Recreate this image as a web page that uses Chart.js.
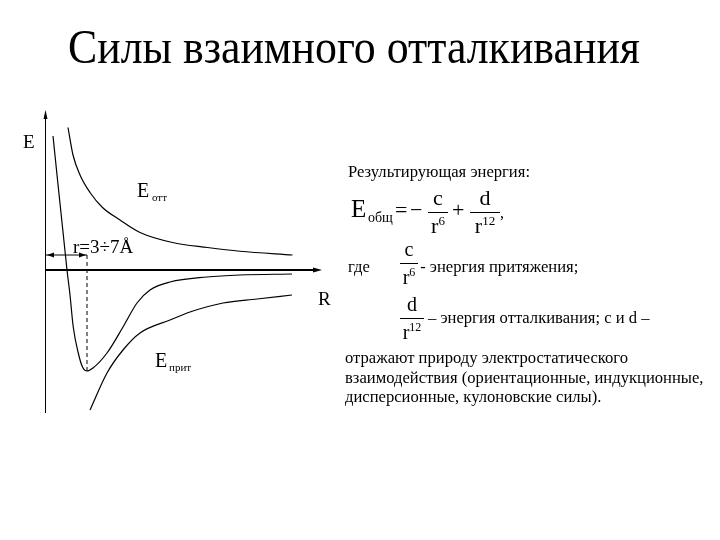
<!DOCTYPE html>
<html>
<head>
<meta charset="utf-8">
<script src="https://cdn.jsdelivr.net/npm/chart.js@4.4.0/dist/chart.umd.min.js"></script>
<style>
  html, body { margin: 0; padding: 0; background: #fff; }
  #wrap { width: 720px; height: 540px; }
</style>
</head>
<body>
<div id="wrap"><canvas id="chart" width="720" height="540"></canvas></div>
<script>
// curves (R and E in arbitrary units)
const repulsionR = [0.92, 1.12, 1.4, 1.8, 2.3, 3.0, 3.8, 5.1, 6.5, 7.8, 9.9];
const repulsionE = [5.7, 4.6, 3.8, 3.1, 2.5, 2.0, 1.5, 1.1, 0.9, 0.75, 0.6];
const attractionR = [1.8, 2.48, 3.12, 3.8, 5.0, 5.8, 7.12, 8.48, 9.88];
const attractionE = [-5.6, -4.12, -3.2, -2.52, -2.0, -1.68, -1.32, -1.16, -1.0];
const totalR = [0.32, 0.88, 1.0, 1.13, 1.33, 1.5, 1.68, 1.92, 2.48, 3.12, 3.68, 4.2, 5.0, 6.48, 7.8, 9.88];
const totalE = [5.36, 0, -1.0, -2.28, -3.32, -3.88, -4.04, -3.92, -3.32, -2.28, -1.32, -0.8, -0.48, -0.28, -0.2, -0.16];
const rangeR = [0, 11];
const rangeE = [-5.8, 6.4];
// equilibrium distance marker
const minimumR = 1.68;
const minimumE = -4.04;
const markerE = 0.6;

const FONT = '"Liberation Serif", "Times New Roman", serif';
const BODY = 16.6;

function points(xs, ys) {
  return xs.map((x, i) => ({ x: x, y: ys[i] }));
}

function curve(xs, ys) {
  return {
    data: points(xs, ys),
    showLine: true,
    borderColor: '#000',
    borderWidth: 1.2,
    pointRadius: 0,
    cubicInterpolationMode: 'monotone',
    clip: false
  };
}

function txt(ctx, s, x, y, size, align) {
  ctx.font = size + 'px ' + FONT;
  ctx.textAlign = align || 'left';
  ctx.fillText(s, x, y);
}

function arrowHead(ctx, x, y, dx, dy, len, half) {
  ctx.beginPath();
  ctx.moveTo(x, y);
  ctx.lineTo(x - dx * len - dy * half, y - dy * len + dx * half);
  ctx.lineTo(x - dx * len + dy * half, y - dy * len - dx * half);
  ctx.closePath();
  ctx.fill();
}

function frac(ctx, top, pow, cx, barY, w, size, psize) {
  txt(ctx, top, cx, barY - 7, size, 'center');
  ctx.beginPath();
  ctx.lineWidth = 1;
  ctx.moveTo(cx - w / 2, barY + 0.5);
  ctx.lineTo(cx + w / 2, barY + 0.5);
  ctx.stroke();
  ctx.font = size + 'px ' + FONT;
  const rw = ctx.measureText('r').width;
  ctx.font = psize + 'px ' + FONT;
  const pw = ctx.measureText(pow).width;
  const left = cx - (rw + pw) / 2;
  txt(ctx, 'r', left, barY + 21, size);
  txt(ctx, pow, left + rw, barY + 13, psize);
}

const slidePlugin = {
  id: 'slide',
  afterDatasetsDraw(chart) {
    const ctx = chart.ctx;
    const xs = chart.scales.x;
    const ys = chart.scales.y;
    const x0 = xs.getPixelForValue(0);
    const y0 = ys.getPixelForValue(0);
    ctx.save();
    ctx.fillStyle = '#000';
    ctx.strokeStyle = '#000';

    // E axis
    ctx.lineWidth = 1;
    ctx.beginPath();
    ctx.moveTo(x0 + 0.5, chart.chartArea.bottom - 2);
    ctx.lineTo(x0 + 0.5, chart.chartArea.top + 4);
    ctx.stroke();
    arrowHead(ctx, x0 + 0.5, chart.chartArea.top, 0, -1, 9, 2);

    // R axis
    ctx.lineWidth = 2;
    ctx.beginPath();
    ctx.moveTo(x0, y0);
    ctx.lineTo(chart.chartArea.right - 4, y0);
    ctx.stroke();
    arrowHead(ctx, chart.chartArea.right + 2, y0, 1, 0, 9, 2.5);

    // distance arrow heads
    const my = ys.getPixelForValue(markerE);
    const mx = xs.getPixelForValue(minimumR);
    arrowHead(ctx, x0 + 2, my, -1, 0, 7, 2.5);
    arrowHead(ctx, mx - 1, my, 1, 0, 7, 2.5);

    // chart labels
    txt(ctx, 'E', 23, 148, 19);
    txt(ctx, 'E', 137, 197, 20);
    txt(ctx, 'отт', 152, 201, 11);
    txt(ctx, 'r=3÷7Å', 73, 253, 19);
    txt(ctx, 'R', 318, 305, 19);
    txt(ctx, 'E', 155, 367, 20);
    txt(ctx, 'прит', 169, 371, 11);

    // title, narrowed to the slide's width
    ctx.font = '48px ' + FONT;
    const title = 'Силы взаимного отталкивания';
    const tw = ctx.measureText(title).width;
    ctx.save();
    ctx.translate(354, 63);
    ctx.scale(572 / tw, 1);
    ctx.textAlign = 'center';
    ctx.fillText(title, 0, 0);
    ctx.restore();

    // right-hand explanation
    txt(ctx, 'Результирующая энергия:', 348, 177, BODY);
    txt(ctx, 'E', 351, 217, 25);
    txt(ctx, 'общ', 368, 222, 14);
    txt(ctx, '=', 395, 217, 22);
    txt(ctx, '−', 410, 217, 22);
    frac(ctx, 'c', '6', 438, 212, 20, 22, 13);
    txt(ctx, '+', 452, 217, 22);
    frac(ctx, 'd', '12', 485, 212, 30, 22, 13);
    txt(ctx, ',', 500, 218, 16);

    txt(ctx, 'где', 348, 272, BODY);
    frac(ctx, 'c', '6', 409, 263, 18, 20, 12);
    txt(ctx, ' - энергия притяжения;', 416, 272, BODY);
    frac(ctx, 'd', '12', 412, 318, 24, 20, 12);
    txt(ctx, '– энергия отталкивания; с и d –', 428, 323, BODY);
    txt(ctx, 'отражают природу электростатического', 345, 363, BODY);
    txt(ctx, 'взаимодействия (ориентационные, индукционные,', 345, 383, BODY);
    txt(ctx, 'дисперсионные, кулоновские силы).', 345, 402, BODY);

    ctx.restore();
  }
};

const marker = {
  data: [{ x: minimumR, y: markerE }, { x: minimumR, y: minimumE }],
  showLine: true,
  borderColor: '#000',
  borderWidth: 1,
  borderDash: [4, 3],
  pointRadius: 0,
  clip: false
};

const distance = {
  data: [{ x: rangeR[0], y: markerE }, { x: minimumR, y: markerE }],
  showLine: true,
  borderColor: '#000',
  borderWidth: 1,
  pointRadius: 0,
  clip: false
};

new Chart(document.getElementById('chart'), {
  type: 'scatter',
  data: {
    datasets: [
      curve(repulsionR, repulsionE),
      curve(attractionR, attractionE),
      curve(totalR, totalE),
      marker,
      distance
    ]
  },
  options: {
    responsive: false,
    animation: false,
    devicePixelRatio: 1,
    layout: { padding: { left: 45, right: 400, top: 110, bottom: 125 } },
    scales: {
      x: { type: 'linear', min: rangeR[0], max: rangeR[1], display: false },
      y: { type: 'linear', min: rangeE[0], max: rangeE[1], display: false }
    },
    plugins: {
      legend: { display: false },
      tooltip: { enabled: false }
    }
  },
  plugins: [slidePlugin]
});
</script>
</body>
</html>
